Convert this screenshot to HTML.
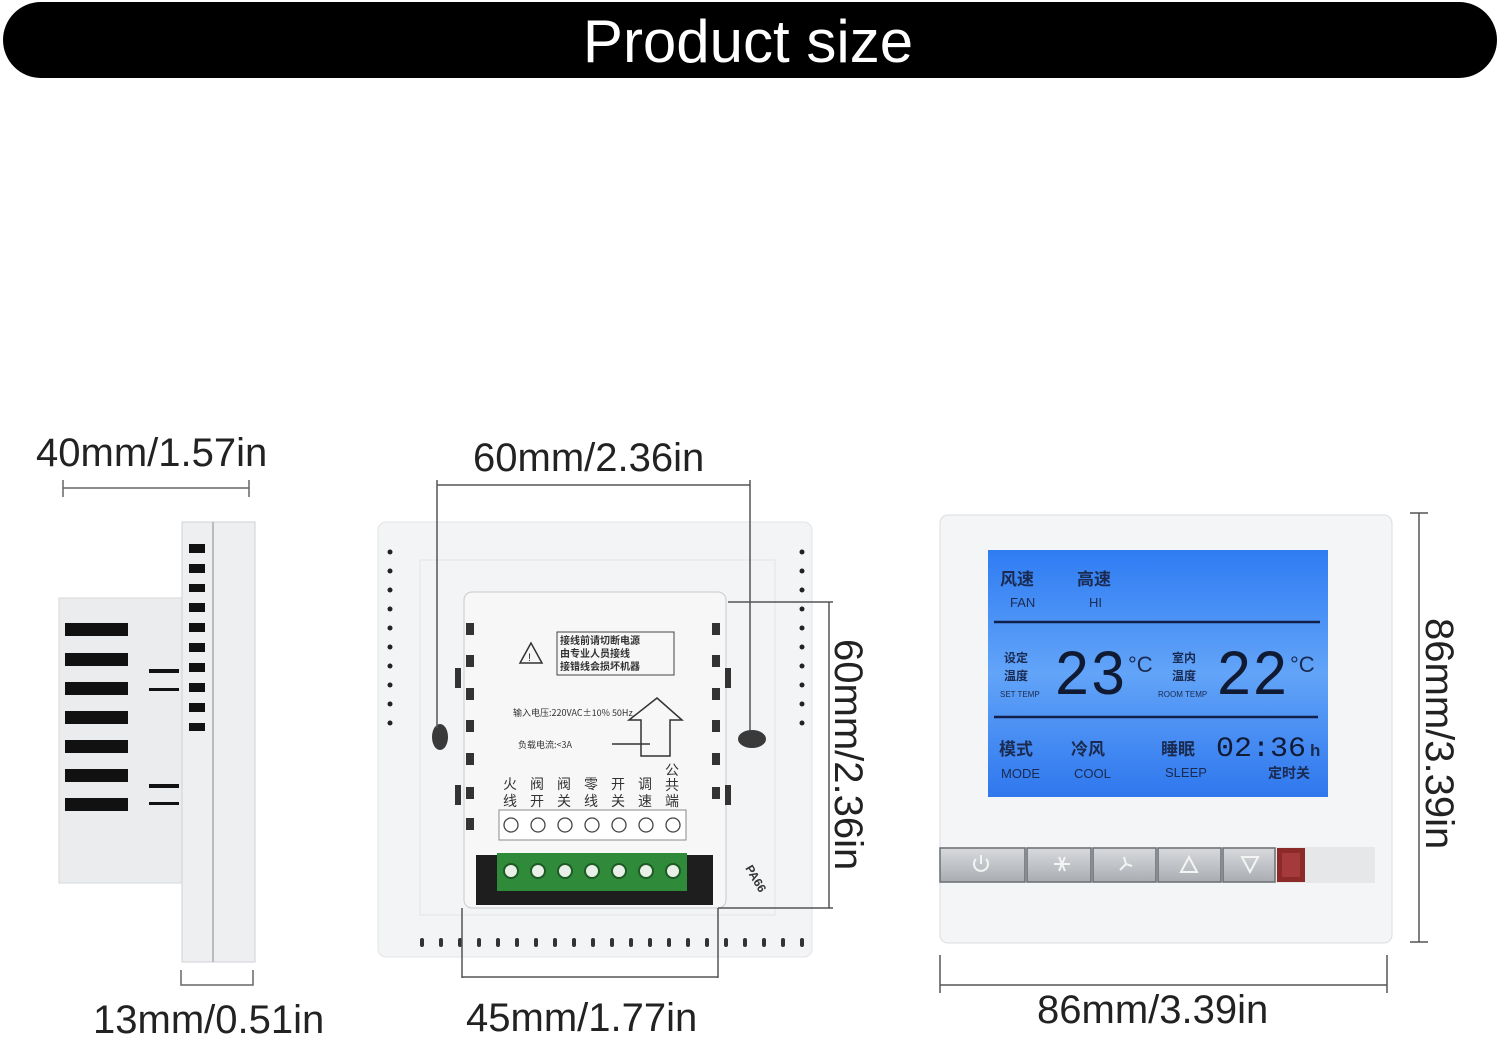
<!DOCTYPE html>
<html><head><meta charset="utf-8"><style>
html,body{margin:0;padding:0;background:#fff;width:1500px;height:1041px;overflow:hidden}
svg{display:block}
.d{font-family:"Liberation Sans","Noto Sans CJK SC",sans-serif;font-size:40px;fill:#222}
.cj{font-family:"Noto Sans CJK SC",sans-serif;fill:#1a2a50;font-weight:bold}
.lat{font-family:"Liberation Sans",sans-serif;fill:#1a2a50}
.seg{font-family:"Liberation Mono",monospace;fill:#111a33}
</style></head><body>
<svg width="1500" height="1041" viewBox="0 0 1500 1041" xmlns="http://www.w3.org/2000/svg">
<defs>
<linearGradient id="lcd" x1="0" y1="0" x2="0" y2="1"><stop offset="0" stop-color="#2f7cf3"/><stop offset=".5" stop-color="#62a4f8"/><stop offset="1" stop-color="#2f77ee"/></linearGradient>
<linearGradient id="btn" x1="0" y1="0" x2="0" y2="1"><stop offset="0" stop-color="#d8dadd"/><stop offset="1" stop-color="#a9adb2"/></linearGradient>
</defs>
<rect x="3" y="2" width="1494" height="76" rx="38" fill="#000"/>
<text x="748" y="62" text-anchor="middle" font-family="Liberation Sans,sans-serif" font-size="60" fill="#fff">Product size</text>

<text class="d" x="36" y="466">40mm/1.57in</text>
<g stroke="#666" stroke-width="1.5" fill="none">
<line x1="63" y1="488" x2="249" y2="488"/><line x1="63" y1="480" x2="63" y2="497"/><line x1="249" y1="480" x2="249" y2="497"/>
<path d="M181 970 V985 H253 V970"/>
</g>
<rect x="59" y="598" width="125" height="285" fill="#ebecee" stroke="#d5d7da"/>
<rect x="182" y="522" width="73" height="440" fill="#eeeff1" stroke="#d0d2d5"/>
<line x1="213" y1="522" x2="213" y2="962" stroke="#b8bbbf" stroke-width="2"/>
<g fill="#111">
<rect x="65" y="623" width="63" height="13"/><rect x="65" y="653" width="63" height="13"/><rect x="65" y="682" width="63" height="13"/><rect x="65" y="711" width="63" height="13"/><rect x="65" y="740" width="63" height="13"/><rect x="65" y="769" width="63" height="13"/><rect x="65" y="798" width="63" height="13"/>
<rect x="149" y="669" width="30" height="4"/><rect x="149" y="688" width="30" height="3"/><rect x="149" y="784" width="30" height="4"/><rect x="149" y="802" width="30" height="3"/>
<rect x="189" y="544" width="16" height="9"/><rect x="189" y="564" width="16" height="9"/><rect x="189" y="584" width="16" height="8"/><rect x="189" y="603" width="16" height="9"/><rect x="189" y="623" width="16" height="9"/><rect x="189" y="643" width="16" height="9"/><rect x="189" y="663" width="16" height="9"/><rect x="189" y="683" width="16" height="9"/><rect x="189" y="703" width="16" height="9"/><rect x="189" y="723" width="16" height="8"/>
</g>
<text class="d" x="93" y="1033">13mm/0.51in</text>

<text class="d" x="473" y="471">60mm/2.36in</text>
<rect x="378" y="522" width="434" height="435" rx="8" fill="#f3f4f5" stroke="#e2e3e5"/>
<rect x="420" y="560" width="355" height="355" fill="none" stroke="#e4e5e7"/>
<g fill="#222">
<g id="dl"><circle cx="390" cy="552" r="2.5"/><circle cx="390" cy="571" r="2.5"/><circle cx="390" cy="590" r="2.5"/><circle cx="390" cy="609" r="2.5"/><circle cx="390" cy="628" r="2.5"/><circle cx="390" cy="647" r="2.5"/><circle cx="390" cy="666" r="2.5"/><circle cx="390" cy="685" r="2.5"/><circle cx="390" cy="704" r="2.5"/><circle cx="390" cy="723" r="2.5"/></g>
<use href="#dl" x="412"/>
</g>
<g fill="#333">
<rect x="420" y="938" width="4" height="9" rx="2"/><rect x="439" y="938" width="4" height="9" rx="2"/><rect x="458" y="938" width="4" height="9" rx="2"/><rect x="477" y="938" width="4" height="9" rx="2"/><rect x="496" y="938" width="4" height="9" rx="2"/><rect x="515" y="938" width="4" height="9" rx="2"/><rect x="534" y="938" width="4" height="9" rx="2"/><rect x="553" y="938" width="4" height="9" rx="2"/><rect x="572" y="938" width="4" height="9" rx="2"/><rect x="591" y="938" width="4" height="9" rx="2"/><rect x="610" y="938" width="4" height="9" rx="2"/><rect x="629" y="938" width="4" height="9" rx="2"/><rect x="648" y="938" width="4" height="9" rx="2"/><rect x="667" y="938" width="4" height="9" rx="2"/><rect x="686" y="938" width="4" height="9" rx="2"/><rect x="705" y="938" width="4" height="9" rx="2"/><rect x="724" y="938" width="4" height="9" rx="2"/><rect x="743" y="938" width="4" height="9" rx="2"/><rect x="762" y="938" width="4" height="9" rx="2"/><rect x="781" y="938" width="4" height="9" rx="2"/><rect x="800" y="938" width="4" height="9" rx="2"/>
</g>
<rect x="464" y="592" width="262" height="316" rx="8" fill="#f7f7f8" stroke="#c8cacd"/>
<ellipse cx="440" cy="737" rx="8" ry="13" fill="#3a3a3a"/>
<ellipse cx="752" cy="739" rx="14" ry="9" fill="#3a3a3a"/>
<g fill="#333">
<rect x="466" y="623" width="8" height="12"/><rect x="466" y="655" width="8" height="12"/><rect x="455" y="668" width="6" height="20"/><rect x="466" y="688" width="8" height="12"/><rect x="466" y="720" width="8" height="12"/><rect x="466" y="753" width="8" height="12"/><rect x="455" y="785" width="6" height="20"/><rect x="466" y="787" width="8" height="12"/><rect x="466" y="818" width="8" height="12"/>
<rect x="712" y="623" width="8" height="12"/><rect x="712" y="655" width="8" height="12"/><rect x="725" y="668" width="6" height="20"/><rect x="712" y="688" width="8" height="12"/><rect x="712" y="720" width="8" height="12"/><rect x="712" y="753" width="8" height="12"/><rect x="725" y="785" width="6" height="20"/><rect x="712" y="787" width="8" height="12"/>
</g>
<rect x="557" y="632" width="117" height="43" fill="none" stroke="#444"/>
<text x="560" y="644" font-size="10" class="cj" style="fill:#333">接线前请切断电源</text>
<text x="560" y="657" font-size="10" class="cj" style="fill:#333">由专业人员接线</text>
<text x="560" y="670" font-size="10" class="cj" style="fill:#333">接错线会损坏机器</text>
<path d="M531 643 L520 663 L542 663 Z" fill="none" stroke="#333" stroke-width="1.5"/>
<text x="528" y="661" font-size="11" font-family="Liberation Sans" fill="#333">!</text>
<text x="513" y="716" font-size="9" font-family="Noto Sans CJK SC,sans-serif" fill="#333">输入电压:220VAC±10% 50Hz</text>
<text x="518" y="748" font-size="9" font-family="Noto Sans CJK SC,sans-serif" fill="#333">负载电流:&lt;3A</text>
<path d="M641 756 V720 L629 720 L657 698 L682 720 L670 720 V756 Z" fill="none" stroke="#333" stroke-width="1.5"/>
<line x1="612" y1="744" x2="650" y2="744" stroke="#333" stroke-width="1.5"/>
<g font-family="Noto Sans CJK SC,sans-serif" font-size="14" fill="#333" text-anchor="middle">
<text x="510" y="789">火</text><text x="510" y="806">线</text>
<text x="537" y="789">阀</text><text x="537" y="806">开</text>
<text x="564" y="789">阀</text><text x="564" y="806">关</text>
<text x="591" y="789">零</text><text x="591" y="806">线</text>
<text x="618" y="789">开</text><text x="618" y="806">关</text>
<text x="645" y="789">调</text><text x="645" y="806">速</text>
<text x="672" y="775">公</text><text x="672" y="790">共</text><text x="672" y="806">端</text>
</g>
<rect x="499" y="810" width="187" height="30" fill="#fff" stroke="#888"/>
<g fill="none" stroke="#444" stroke-width="1.3">
<circle cx="511" cy="825" r="7"/><circle cx="538" cy="825" r="7"/><circle cx="565" cy="825" r="7"/><circle cx="592" cy="825" r="7"/><circle cx="619" cy="825" r="7"/><circle cx="646" cy="825" r="7"/><circle cx="673" cy="825" r="7"/>
</g>
<rect x="476" y="855" width="237" height="50" fill="#1e1e1e"/>
<rect x="497" y="853" width="190" height="38" fill="#2f8a3a"/>
<g fill="#e8f0e8" stroke="#1d5a25" stroke-width="2">
<circle cx="511" cy="871" r="7"/><circle cx="538" cy="871" r="7"/><circle cx="565" cy="871" r="7"/><circle cx="592" cy="871" r="7"/><circle cx="619" cy="871" r="7"/><circle cx="646" cy="871" r="7"/><circle cx="673" cy="871" r="7"/>
</g>
<text x="745" y="868" font-size="12" font-weight="bold" font-family="Liberation Sans" fill="#333" transform="rotate(60 745 868)">PA66</text>
<g stroke="#555" stroke-width="1.5" fill="none">
<line x1="437" y1="485" x2="750" y2="485"/>
<line x1="437" y1="480" x2="437" y2="728"/><line x1="750" y1="480" x2="750" y2="730"/>
<line x1="728" y1="602" x2="833" y2="602"/><line x1="718" y1="908" x2="833" y2="908"/>
<line x1="829" y1="602" x2="829" y2="908"/>
<line x1="462" y1="908" x2="462" y2="978"/><line x1="718" y1="908" x2="718" y2="978"/>
<line x1="462" y1="977" x2="718" y2="977"/>
</g>
<text class="d" x="0" y="0" transform="translate(835 639) rotate(90)">60mm/2.36in</text>
<text class="d" x="466" y="1031">45mm/1.77in</text>

<rect x="940" y="515" width="452" height="428" rx="8" fill="#f4f5f6" stroke="#dcdde0"/>
<rect x="988" y="550" width="340" height="247" fill="url(#lcd)"/>
<line x1="994" y1="622" x2="1320" y2="622" stroke="#10204a" stroke-width="2.5"/>
<line x1="994" y1="717" x2="1318" y2="717" stroke="#10204a" stroke-width="2.5"/>
<text x="1000" y="585" font-size="17" class="cj">风速</text>
<text x="1077" y="585" font-size="17" class="cj">高速</text>
<text x="1010" y="607" font-size="13" class="lat">FAN</text>
<text x="1089" y="607" font-size="13" class="lat">HI</text>
<text x="1004" y="662" font-size="12" class="cj">设定</text>
<text x="1004" y="680" font-size="12" class="cj">温度</text>
<text x="1000" y="697" font-size="8" class="lat">SET TEMP</text>
<text x="1054" y="694" font-size="64" class="seg" textLength="72" lengthAdjust="spacingAndGlyphs">23</text>
<text x="1128" y="672" font-size="22" class="lat">°C</text>
<text x="1172" y="662" font-size="12" class="cj">室内</text>
<text x="1172" y="680" font-size="12" class="cj">温度</text>
<text x="1158" y="697" font-size="8" class="lat">ROOM TEMP</text>
<text x="1216" y="694" font-size="64" class="seg" textLength="72" lengthAdjust="spacingAndGlyphs">22</text>
<text x="1290" y="672" font-size="22" class="lat">°C</text>
<text x="999" y="755" font-size="17" class="cj">模式</text>
<text x="1071" y="755" font-size="17" class="cj">冷风</text>
<text x="1161" y="755" font-size="17" class="cj">睡眠</text>
<text x="1001" y="778" font-size="13" class="lat">MODE</text>
<text x="1074" y="778" font-size="13" class="lat">COOL</text>
<text x="1165" y="777" font-size="13" class="lat">SLEEP</text>
<text x="1216" y="756" font-size="28" class="seg" textLength="90" lengthAdjust="spacingAndGlyphs">02:36</text>
<text x="1310" y="756" font-size="17" class="lat" font-weight="bold">h</text>
<text x="1268" y="778" font-size="14" class="cj">定时关</text>
<rect x="940" y="847" width="435" height="36" fill="#e6e7e9"/>
<g stroke="#6a6e73" stroke-width="1.5" fill="url(#btn)">
<rect x="940" y="848" width="85" height="34"/><rect x="1027" y="848" width="64" height="34"/><rect x="1093" y="848" width="63" height="34"/><rect x="1158" y="848" width="63" height="34"/><rect x="1223" y="848" width="52" height="34"/>
</g>
<rect x="1277" y="848" width="28" height="34" fill="#8c2a2a"/>
<rect x="1282" y="853" width="18" height="24" fill="#a53a3a"/>
<g stroke="#f4f4f4" stroke-width="2" fill="none">
<path d="M976 859 A7 7 0 1 0 986 859"/><line x1="981" y1="855" x2="981" y2="864"/>
<path d="M1059 857 L1065 871 M1065 857 L1059 871 M1054 864 L1070 864"/>
<path d="M1124 857 L1126 864 L1132 866 M1126 864 L1120 870"/>
<path d="M1189 857 L1181 872 H1197 Z"/>
<path d="M1242 857 L1250 872 L1258 857 Z"/>
</g>
<g stroke="#555" stroke-width="1.5" fill="none">
<line x1="1419" y1="513" x2="1419" y2="942"/><line x1="1410" y1="513" x2="1428" y2="513"/><line x1="1410" y1="942" x2="1428" y2="942"/>
<line x1="940" y1="985" x2="1387" y2="985"/><line x1="940" y1="955" x2="940" y2="993"/><line x1="1387" y1="955" x2="1387" y2="993"/>
</g>
<text class="d" x="0" y="0" transform="translate(1426 618) rotate(90)">86mm/3.39in</text>
<text class="d" x="1037" y="1023">86mm/3.39in</text>
</svg>
</body></html>
